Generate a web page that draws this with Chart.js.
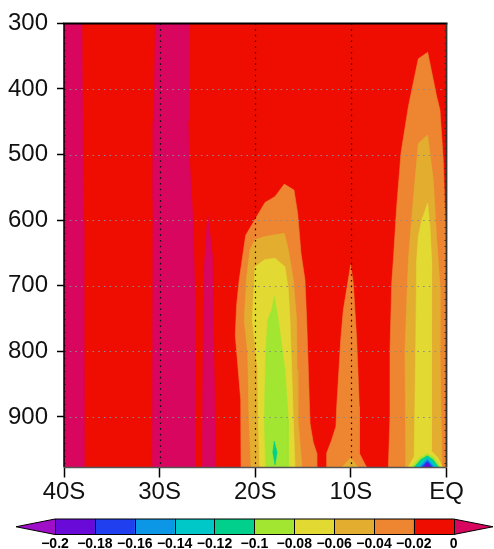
<!DOCTYPE html>
<html><head><meta charset="utf-8">
<script src="https://cdn.jsdelivr.net/npm/chart.js@4"></script>
<style>html,body{margin:0;padding:0;background:#fff;overflow:hidden}canvas{display:block}</style>
</head><body>
<canvas id="c" width="494" height="549"></canvas>
<script>
// ---- axes ----
const xTickValues = [-40, -30, -20, -10, 0];
const xTickLabels = ['40S', '30S', '20S', '10S', 'EQ'];
const yTickValues = [300, 400, 500, 600, 700, 800, 900];
const latMin = -40, latMax = 0, pTop = 300, pBottom = 977;

// ---- contour levels (colour bar) ----
const levels = [-0.2, -0.18, -0.16, -0.14, -0.12, -0.1, -0.08, -0.06, -0.04, -0.02, 0];
const levelLabels = ['\u22120.2', '\u22120.18', '\u22120.16', '\u22120.14', '\u22120.12', '\u22120.1', '\u22120.08', '\u22120.06', '\u22120.04', '\u22120.02', '0'];
// band 0: < -0.2 ... band 11: > 0
const bandColors = ['#a00fc8', '#6a0ad8', '#2040f0', '#0c96e6', '#00c8c8', '#00d08c',
                    '#a2e632', '#e2da32', '#e3ae30', '#ee8530', '#ee0d00', '#d8065f'];

// ---- filled contour regions, [latitude, pressure hPa], painted in order ----
const regBackground = [[-40,300],[0,300],[0,977],[-40,977]];
const regPosA = [[-40,300],[-38.12,300],[-38.0,600],[-37.91,977],[-40,977]];
const regPosB = [[-30.45,300],[-30.6,450],[-30.69,570],[-30.75,977],[-26.20,977],[-26.30,722],[-26.51,600],[-26.88,508],[-27.03,448],[-26.93,300]];
const regPosC = [[-24.97,592],[-24.52,650],[-24.42,722],[-24.14,977],[-25.54,977],[-25.43,722],[-25.36,676]];
const regOrange20 = [[-21.49,977],[-21.52,874],[-22.09,775],[-21.95,730],[-21.68,691],[-21.0,623],[-20.03,599],[-18.98,573],[-17.93,564],[-16.96,545],[-15.95,554],[-15.56,590],[-15.22,650],[-14.80,691],[-14.62,752],[-14.45,828],[-14.27,910],[-13.93,939],[-13.57,955],[-13.57,977]];
const regGold20 = [[-20.44,977],[-20.65,904],[-20.79,802],[-21.15,752],[-20.89,686],[-20.55,645],[-20.03,630],[-19.05,625],[-16.96,620],[-16.54,645],[-16.02,691],[-15.67,752],[-15.63,828],[-15.53,904],[-15.11,977]];
const regYellow20 = [[-19.53,977],[-19.68,904],[-19.74,828],[-20.31,752],[-20.03,671],[-18.98,660],[-17.93,658],[-16.89,671],[-16.54,706],[-16.37,752],[-16.19,828],[-16.02,904],[-15.84,977]];
const regLime20 = [[-18.01,716],[-17.59,752],[-16.89,828],[-16.54,904],[-16.54,977],[-18.91,977],[-19.05,904],[-18.91,802],[-18.70,752],[-18.28,737]];
const regGreen20 = [[-18.01,937],[-17.72,954],[-17.93,973],[-18.16,954]];
const regOrange10 = [[-10.02,668],[-9.75,696],[-9.39,782],[-9.12,884],[-9.12,955],[-8.34,977],[-12.53,977],[-12.53,955],[-12.01,935],[-11.56,914],[-11.48,884],[-11.06,782],[-10.79,737]];
const regGold10 = [[-10.96,977],[-10.02,962],[-9.22,977]];
const regOrangeEq = [[-1.97,344],[-1.02,412],[-0.68,432],[-0.34,508],[-0.2,569],[0,630],[0,977],[-6.08,977],[-5.91,899],[-5.91,798],[-5.73,696],[-5.56,661],[-5.21,580],[-4.76,498],[-3.99,427],[-2.95,354]];
const regGoldEq = [[-1.97,470],[-1.38,539],[-1.02,630],[-0.68,700],[-0.68,798],[-0.50,950],[-0.47,977],[-4.27,977],[-4.27,950],[-4.34,798],[-3.99,661],[-3.71,610],[-3.29,539],[-2.95,483]];
const regYellowEq = [[-1.97,574],[-1.73,610],[-1.55,661],[-1.62,798],[-1.55,950],[-1.5,977],[-3.4,977],[-3.37,950],[-3.22,798],[-3.12,661],[-2.95,625],[-2.59,600]];
const regYellowSpot = [[-4.0,977],[-3.5,963],[-2.6,950],[-1.5,953],[-0.9,962],[-0.4,977]];
const regLimeSpot = [[-3.7,977],[-2.8,962],[-2.0,956],[-1.3,962],[-0.6,977]];
const regGreenSpot = [[-3.4,977],[-2.7,965],[-2.0,959],[-1.4,965],[-0.8,977]];
const regCyanSpot = [[-3.2,977],[-2.0,961],[-1.0,977]];
const regLBlueSpot = [[-2.9,977],[-2.0,964],[-1.2,977]];
const regBlueSpot = [[-2.65,977],[-2.0,967],[-1.4,977]];
const regVioletSpot = [[-2.4,977],[-2.0,970],[-1.65,977]];

const regions = [
  [regBackground, 10], [regPosA, 11], [regPosB, 11], [regPosC, 11],
  [regOrange20, 9], [regGold20, 8], [regYellow20, 7], [regLime20, 6], [regGreen20, 5],
  [regOrange10, 9], [regGold10, 8],
  [regOrangeEq, 9], [regGoldEq, 8], [regYellowEq, 7],
  [regYellowSpot, 7], [regLimeSpot, 6], [regGreenSpot, 5], [regCyanSpot, 4],
  [regLBlueSpot, 3], [regBlueSpot, 2], [regVioletSpot, 1]
];

const datasets = regions.map(([pts, band]) => ({
  data: pts.concat([pts[0]]).map(([x, y]) => ({x, y})),
  showLine: true, fill: 'shape', pointRadius: 0, borderWidth: 0.6,
  borderColor: bandColors[band], backgroundColor: bandColors[band], tension: 0
})).reverse();

const overlay = {
  id: 'overlay',
  afterDatasetsDraw(chart) {
    const {ctx, chartArea: a, scales: {x, y}} = chart;
    ctx.save();
    ctx.lineWidth = 1.2;
    ctx.setLineDash([1.6, 4.1]);
    ctx.strokeStyle = '#8c8c8c';
    yTickValues.forEach(v => {
      if (v === pTop) return;
      const py = Math.round(y.getPixelForValue(v)) + 0.5;
      ctx.beginPath(); ctx.moveTo(a.left, py); ctx.lineTo(a.right, py); ctx.stroke();
    });
    ctx.strokeStyle = '#111';
    xTickValues.forEach(v => {
      if (v === latMin || v === latMax) return;
      const px = Math.round(x.getPixelForValue(v)) + 0.5;
      ctx.beginPath(); ctx.moveTo(px, a.top); ctx.lineTo(px, a.bottom); ctx.stroke();
    });
    ctx.setLineDash([]);
    // minor ticks
    ctx.strokeStyle = '#333'; ctx.lineWidth = 1;
    for (let p = pTop + 10; p < pBottom; p += 10) {
      const py = Math.round(y.getPixelForValue(p)) + 0.5;
      ctx.beginPath(); ctx.moveTo(a.left, py); ctx.lineTo(a.left + 2, py); ctx.stroke();
      ctx.beginPath(); ctx.moveTo(a.right, py); ctx.lineTo(a.right - 2, py); ctx.stroke();
    }
    // frame
    ctx.strokeStyle = '#000'; ctx.lineWidth = 2;
    ctx.beginPath(); ctx.moveTo(a.left - 1, a.top); ctx.lineTo(a.right + 1, a.top); ctx.stroke();
    ctx.lineWidth = 1.5;
    ctx.beginPath(); ctx.moveTo(a.left, a.top); ctx.lineTo(a.left, a.bottom); ctx.stroke();
    ctx.strokeStyle = '#333'; ctx.lineWidth = 1.8;
    ctx.beginPath(); ctx.moveTo(a.right, a.top); ctx.lineTo(a.right, a.bottom); ctx.stroke();
    ctx.strokeStyle = '#555'; ctx.lineWidth = 1.5;
    ctx.beginPath(); ctx.moveTo(a.left, a.bottom); ctx.lineTo(a.right, a.bottom); ctx.stroke();
    ctx.restore();
  },
  afterDraw(chart) {
    const {ctx} = chart;
    const x0 = 55, x1 = 453.7, top = 519, bot = 534.5, tipL = 16, tipR = 493;
    const n = levels.length - 1;
    const w = (x1 - x0) / n;
    const mid = (top + bot) / 2;
    ctx.save();
    // triangles
    ctx.fillStyle = bandColors[0];
    ctx.beginPath(); ctx.moveTo(x0, top); ctx.lineTo(tipL, mid); ctx.lineTo(x0, bot); ctx.closePath(); ctx.fill();
    ctx.fillStyle = bandColors[bandColors.length - 1];
    ctx.beginPath(); ctx.moveTo(x1, top); ctx.lineTo(tipR, mid); ctx.lineTo(x1, bot); ctx.closePath(); ctx.fill();
    for (let i = 0; i < n; i++) {
      ctx.fillStyle = bandColors[i + 1];
      ctx.fillRect(x0 + i * w, top, w + 0.5, bot - top);
    }
    ctx.strokeStyle = '#000'; ctx.lineWidth = 1;
    ctx.beginPath();
    ctx.moveTo(x0, top); ctx.lineTo(tipL, mid); ctx.lineTo(x0, bot);
    ctx.lineTo(x1, bot); ctx.lineTo(tipR, mid); ctx.lineTo(x1, top); ctx.closePath();
    ctx.stroke();
    for (let i = 0; i <= n; i++) {
      const px = Math.round(x0 + i * w) + 0.5;
      ctx.beginPath(); ctx.moveTo(px, top); ctx.lineTo(px, bot); ctx.stroke();
    }
    ctx.fillStyle = '#000';
    ctx.font = 'bold 14px "Liberation Sans", Arial, sans-serif';
    ctx.textAlign = 'center'; ctx.textBaseline = 'alphabetic';
    levelLabels.forEach((t, i) => ctx.fillText(t, x0 + i * w, 547.5));
    ctx.restore();
  }
};

new Chart(document.getElementById('c'), {
  type: 'scatter',
  data: {datasets},
  options: {
    responsive: false, animation: false, devicePixelRatio: 1,
    layout: {padding: {left: 0, right: 47.5, top: 23, bottom: 0}},
    plugins: {legend: {display: false}, tooltip: {enabled: false}},
    elements: {line: {capBezierPoints: false}},
    scales: {
      x: {
        type: 'linear', min: latMin, max: latMax,
        afterBuildTicks: s => { s.ticks = xTickValues.map(v => ({value: v})); },
        afterFit: s => { s.height = 81.5; },
        grid: {drawOnChartArea: false, drawTicks: true, tickLength: 10, tickColor: '#000', tickWidth: 1.5},
        border: {display: false},
        ticks: {padding: 0, maxRotation: 0, autoSkip: false, color: '#111',
                font: {family: '"Liberation Sans", Arial, sans-serif', size: 24},
                callback: v => xTickLabels[xTickValues.indexOf(v)]}
      },
      y: {
        type: 'linear', reverse: true, min: pTop, max: pBottom,
        afterBuildTicks: s => { s.ticks = yTickValues.map(v => ({value: v})); },
        afterFit: s => { s.width = 64; },
        grid: {drawOnChartArea: false, drawTicks: true, tickLength: 7, tickColor: '#000', tickWidth: 1.5},
        border: {display: false},
        ticks: {padding: 9, autoSkip: false, color: '#111',
                font: {family: '"Liberation Sans", Arial, sans-serif', size: 24}}
      }
    }
  },
  plugins: [overlay]
});
</script>
</body></html>
